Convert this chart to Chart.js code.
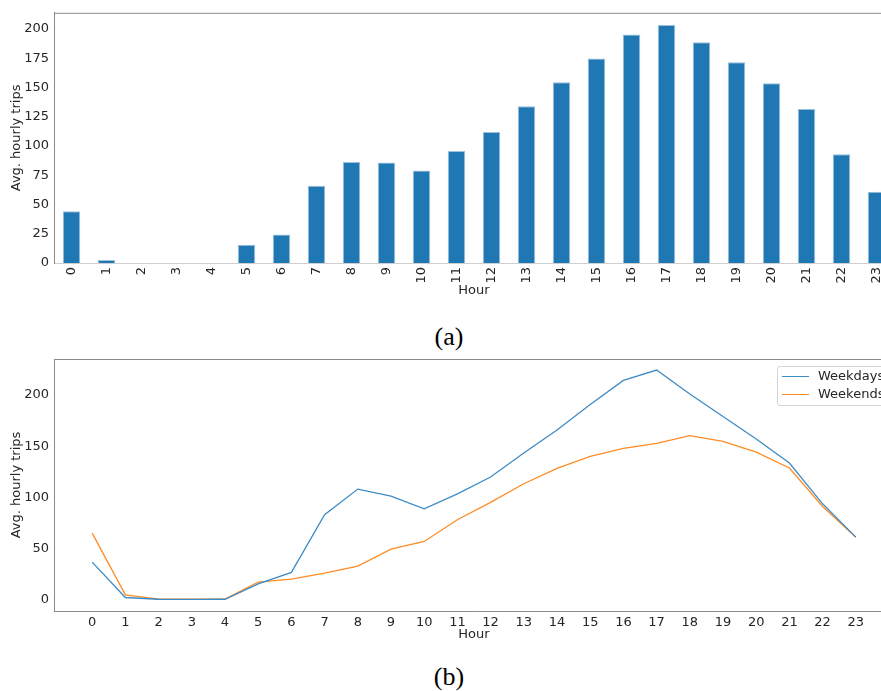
<!DOCTYPE html>
<html>
<head>
<meta charset="utf-8">
<script src="https://cdn.jsdelivr.net/npm/chart.js@4.4.0/dist/chart.umd.min.js"></script>
<style>
  body { margin: 0; background: #fff; }
  #page { position: relative; width: 881px; height: 691px; overflow: hidden; }
  #wrapA { position: absolute; left: 0; top: 0; }
  #wrapB { position: absolute; left: 0; top: 340px; }
  .caption {
    position: absolute; left: 399px; width: 100px; text-align: center;
    font-family: "Liberation Serif", serif; font-size: 26px; color: #000;
  }
  .legend {
    position: absolute; left: 777px; top: 366px; width: 120px; height: 38px;
    border: 1px solid #d6d6d6; border-radius: 3px; background: rgba(255,255,255,0.8);
    font-family: "DejaVu Sans", sans-serif; font-size: 13px; color: #262626;
  }
  .legend .row { position: absolute; left: 0; height: 16px; line-height: 16px; }
  .legend .swatch { position: absolute; left: 4px; top: 8px; width: 27px; height: 0; border-top: 1.3px solid; }
  .legend .txt { position: absolute; left: 40px; top: 0; white-space: nowrap; }
</style>
</head>
<body>
<div id="page">
  <div id="wrapA"><canvas id="hourlyChart" width="900" height="300"></canvas></div>
  <div class="caption" style="top: 322px;">(a)</div>
  <div id="wrapB"><canvas id="weekChart" width="900" height="305"></canvas></div>
  <div class="legend">
    <div class="row" style="top: 1px;"><span class="swatch" style="border-color:#3f8bc4;"></span><span class="txt">Weekdays</span></div>
    <div class="row" style="top: 19px;"><span class="swatch" style="border-color:#ff8c26;"></span><span class="txt">Weekends</span></div>
  </div>
  <div class="caption" style="top: 662px;">(b)</div>
</div>

<script>
// Data
const hours = [0, 1, 2, 3, 4, 5, 6, 7, 8, 9, 10, 11, 12, 13, 14, 15, 16, 17, 18, 19, 20, 21, 22, 23];
const hourLabels = ["0", "1", "2", "3", "4", "5", "6", "7", "8", "9", "10", "11",
  "12", "13", "14", "15", "16", "17", "18", "19", "20", "21", "22", "23"];
const avgTrips = [44.2, 2.5, 0, 0, 0, 15.6, 24.4, 66.0, 86.4, 85.8, 79.0, 95.8,
  111.9, 134.0, 154.4, 174.8, 195.2, 203.4, 188.6, 171.6, 153.5, 131.7, 92.9, 60.9];
const weekdayTrips = [36.6, 2.0, 0.3, 0.2, 0.3, 15.4, 26.6, 82.9, 108.0, 101.2, 88.7, 103.4,
  119.8, 143.2, 165.7, 190.8, 214.3, 224.4, 201.0, 179.0, 157.0, 133.5, 93.6, 61.0];
const weekendTrips = [65.0, 4.6, 0.5, 0.3, 0.5, 17.0, 20.0, 25.8, 32.7, 49.3, 56.8, 78.0,
  95.0, 113.2, 128.2, 140.0, 147.8, 152.7, 160.2, 154.6, 144.2, 128.6, 91.0, 61.0];
const yTicksA = [0, 25, 50, 75, 100, 125, 150, 175, 200];
const yTicksB = [0, 50, 100, 150, 200];

Chart.defaults.font.family = "DejaVu Sans";
Chart.defaults.font.size = 13;
Chart.defaults.color = "#262626";

const spineColor = "#8a8a8a";

// top spine, like matplotlib's frame
const topSpine = {
  id: "topSpine",
  afterDraw(chart) {
    const { ctx, chartArea } = chart;
    ctx.save();
    ctx.strokeStyle = spineColor;
    ctx.lineWidth = 1;
    ctx.beginPath();
    ctx.moveTo(chartArea.left, chartArea.top + 0.5);
    ctx.lineTo(chartArea.right, chartArea.top + 0.5);
    ctx.stroke();
    ctx.restore();
  },
};

// (a) Avg. hourly trips, bars
new Chart(document.getElementById("hourlyChart"), {
  type: "bar",
  data: {
    labels: hourLabels,
    datasets: [
      {
        data: avgTrips,
        backgroundColor: "#1f77b4",
        borderColor: "#9cc1dc",
        borderWidth: 1,
        barPercentage: 0.5,
        categoryPercentage: 1,
      },
    ],
  },
  options: {
    responsive: false,
    animation: false,
    layout: { padding: { top: 11, right: 6, left: 0, bottom: 0 } },
    plugins: { legend: { display: false }, tooltip: { enabled: false } },
    scales: {
      x: {
        grid: { display: false, drawTicks: false },
        border: { color: "#cfcfcf", width: 1 },
        ticks: { minRotation: 90, maxRotation: 90, autoSkip: false, padding: 4 },
        title: { display: true, text: "Hour", padding: { top: 0, bottom: 2 } },
        afterFit: (axis) => { axis.height = 37; },
      },
      y: {
        min: 0,
        max: 213.8,
        grid: { display: false, drawTicks: false },
        border: { color: spineColor, width: 1 },
        ticks: { padding: 5 },
        title: { display: true, text: "Avg. hourly trips", padding: { top: 9, bottom: 0 } },
        afterBuildTicks: (axis) => { axis.ticks = yTicksA.map((v) => ({ value: v })); },
        afterFit: (axis) => { axis.width = 54; },
      },
    },
  },
  plugins: [topSpine],
});

// (b) Weekdays vs weekends, lines
new Chart(document.getElementById("weekChart"), {
  type: "line",
  data: {
    datasets: [
      {
        label: "Weekdays",
        data: hours.map((h, i) => ({ x: h, y: weekdayTrips[i] })),
        borderColor: "#3f8bc4",
        borderWidth: 1.3,
        pointRadius: 0,
        tension: 0,
      },
      {
        label: "Weekends",
        data: hours.map((h, i) => ({ x: h, y: weekendTrips[i] })),
        borderColor: "#ff8c26",
        borderWidth: 1.3,
        pointRadius: 0,
        tension: 0,
      },
    ],
  },
  options: {
    responsive: false,
    animation: false,
    layout: { padding: { top: 19, right: 6, left: 0, bottom: 0 } },
    plugins: { legend: { display: false }, tooltip: { enabled: false } },
    scales: {
      x: {
        type: "linear",
        min: -1.15,
        max: 24.15,
        grid: { display: false, drawTicks: false },
        border: { color: spineColor, width: 1 },
        ticks: { padding: 4, callback: (v) => String(v) },
        title: { display: true, text: "Hour", padding: { top: 0, bottom: 3 } },
        afterBuildTicks: (axis) => { axis.ticks = hours.map((v) => ({ value: v })); },
        afterFit: (axis) => { axis.height = 34; },
      },
      y: {
        min: -11.2,
        max: 235.2,
        grid: { display: false, drawTicks: false },
        border: { color: spineColor, width: 1 },
        ticks: { padding: 5 },
        title: { display: true, text: "Avg. hourly trips", padding: { top: 9, bottom: 0 } },
        afterBuildTicks: (axis) => { axis.ticks = yTicksB.map((v) => ({ value: v })); },
        afterFit: (axis) => { axis.width = 54; },
      },
    },
  },
  plugins: [topSpine],
});
</script>
</body>
</html>
